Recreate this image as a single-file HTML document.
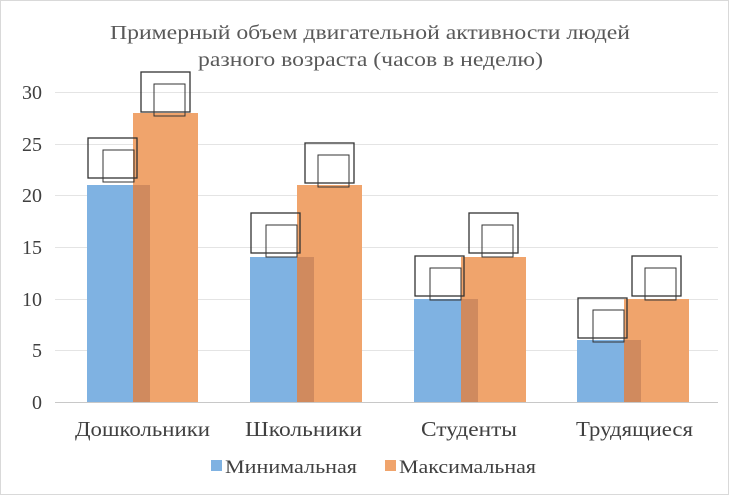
<!DOCTYPE html><html><head><meta charset="utf-8"><style>body{margin:0;background:#fff}</style></head><body>
<svg width="729" height="495" xmlns="http://www.w3.org/2000/svg" font-family="Liberation Serif, serif">
<rect x="0.5" y="0.5" width="728" height="494" fill="#fff" stroke="#d9d9d9"/>
<text x="110" y="39" font-size="20" fill="#595959" textLength="520" lengthAdjust="spacingAndGlyphs">Примерный объем двигательной активности людей</text>
<text x="198" y="66" font-size="20" fill="#595959" textLength="345" lengthAdjust="spacingAndGlyphs">разного возраста (часов в неделю)</text>
<g stroke="#e4e4e4" stroke-width="1">
<line x1="55" x2="718" y1="92.5" y2="92.5"/><line x1="55" x2="718" y1="144.5" y2="144.5"/><line x1="55" x2="718" y1="195.5" y2="195.5"/><line x1="55" x2="718" y1="247.5" y2="247.5"/><line x1="55" x2="718" y1="299.5" y2="299.5"/><line x1="55" x2="718" y1="350.5" y2="350.5"/></g>
<g font-size="20" fill="#404040" text-anchor="end">
<text x="42" y="99">30</text><text x="42" y="151">25</text><text x="42" y="202">20</text><text x="42" y="254">15</text><text x="42" y="306">10</text><text x="42" y="357">5</text><text x="42" y="409">0</text></g>
<rect x="87" y="185" width="63" height="217" fill="#7fb2e2"/><rect x="133" y="113" width="65" height="289" fill="#f0a46c"/><rect x="133" y="185" width="17" height="217" fill="#d08a5e"/>
<rect x="250" y="257" width="63" height="145" fill="#7fb2e2"/><rect x="297" y="185" width="65" height="217" fill="#f0a46c"/><rect x="297" y="257" width="17" height="145" fill="#d08a5e"/>
<rect x="414" y="299" width="63" height="103" fill="#7fb2e2"/><rect x="461" y="257" width="65" height="145" fill="#f0a46c"/><rect x="461" y="299" width="17" height="103" fill="#d08a5e"/>
<rect x="577" y="340" width="63" height="62" fill="#7fb2e2"/><rect x="624" y="299" width="65" height="103" fill="#f0a46c"/><rect x="624" y="340" width="17" height="62" fill="#d08a5e"/>
<line x1="55" x2="718" y1="402.5" y2="402.5" stroke="#c8c8c8"/>
<g fill="none" stroke="#333" stroke-width="1.3">
<rect x="88" y="138" width="49" height="40"/><rect x="103" y="150" width="31" height="32" stroke-width="1"/>
<rect x="141" y="72" width="49" height="40"/><rect x="154" y="84" width="31" height="32" stroke-width="1"/>
<rect x="251" y="213" width="49" height="40"/><rect x="266" y="225" width="31" height="32" stroke-width="1"/>
<rect x="305" y="143" width="49" height="40"/><rect x="318" y="155" width="31" height="32" stroke-width="1"/>
<rect x="415" y="256" width="49" height="40"/><rect x="430" y="268" width="31" height="32" stroke-width="1"/>
<rect x="469" y="213" width="49" height="40"/><rect x="482" y="225" width="31" height="32" stroke-width="1"/>
<rect x="578" y="298" width="49" height="40"/><rect x="593" y="310" width="31" height="32" stroke-width="1"/>
<rect x="632" y="256" width="49" height="40"/><rect x="645" y="268" width="31" height="32" stroke-width="1"/>
</g>
<g font-size="21" fill="#404040">
<text x="75" y="436" textLength="135" lengthAdjust="spacingAndGlyphs">Дошкольники</text>
<text x="245" y="436" textLength="117" lengthAdjust="spacingAndGlyphs">Школьники</text>
<text x="421" y="436" textLength="96" lengthAdjust="spacingAndGlyphs">Студенты</text>
<text x="576" y="436" textLength="117" lengthAdjust="spacingAndGlyphs">Трудящиеся</text></g>
<rect x="211" y="460" width="11" height="11" fill="#7fb2e2"/><text x="225" y="473" font-size="19" fill="#404040" textLength="132" lengthAdjust="spacingAndGlyphs">Минимальная</text>
<rect x="385" y="460" width="11" height="11" fill="#f0a46c"/><text x="399" y="473" font-size="19" fill="#404040" textLength="137" lengthAdjust="spacingAndGlyphs">Максимальная</text>
</svg></body></html>
